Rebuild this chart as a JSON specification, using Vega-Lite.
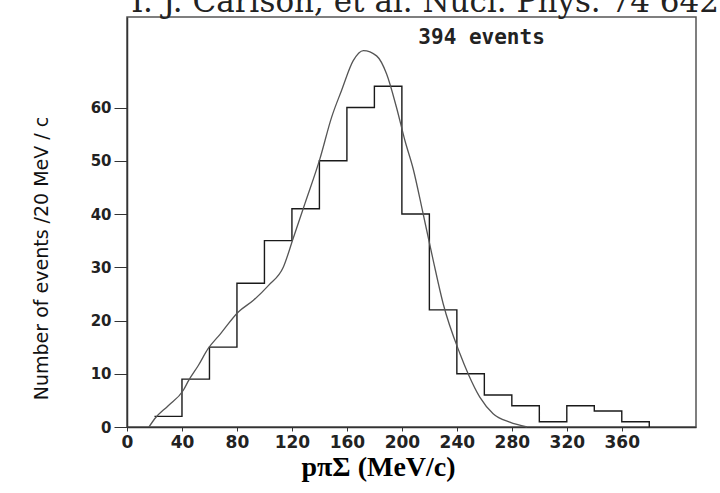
{
  "$schema": "https://vega.github.io/schema/vega-lite/v6.json",
  "width": 569,
  "height": 410,
  "autosize": {"type": "none"},
  "padding": {"left": 127, "top": 17, "right": 24, "bottom": 66},
  "background": "white",
  "title": {
    "text": "T. J. Carlson, et al. Nucl. Phys. 74 642",
    "anchor": "start",
    "frame": "group",
    "font": "DejaVu Serif",
    "fontSize": 31,
    "fontWeight": "normal",
    "color": "#222",
    "baseline": "alphabetic",
    "offset": 0,
    "dy": 26
  },
  "config": {
    "view": {"stroke": "#555", "strokeWidth": 1.5},
    "axis": {"grid": false}
  },
  "datasets": {
    "hist": [
      {"p": 20, "n": 2}, {"p": 40, "n": 9}, {"p": 60, "n": 15}, {"p": 80, "n": 27},
      {"p": 100, "n": 35}, {"p": 120, "n": 41}, {"p": 140, "n": 50}, {"p": 160, "n": 60},
      {"p": 180, "n": 64}, {"p": 200, "n": 40}, {"p": 220, "n": 22}, {"p": 240, "n": 10},
      {"p": 260, "n": 6}, {"p": 280, "n": 4}, {"p": 300, "n": 1}, {"p": 320, "n": 4},
      {"p": 340, "n": 3}, {"p": 360, "n": 1}, {"p": 380, "n": 0}
    ],
    "curve": [
      {"p": 16, "n": 0}, {"p": 20, "n": 1.5}, {"p": 30, "n": 4}, {"p": 41, "n": 6.9},
      {"p": 45, "n": 8.8}, {"p": 52, "n": 11.6}, {"p": 59, "n": 14.7}, {"p": 68, "n": 17.5},
      {"p": 81, "n": 21.6}, {"p": 92, "n": 23.8}, {"p": 103, "n": 26.6}, {"p": 113.7, "n": 30},
      {"p": 121, "n": 35.5}, {"p": 129.5, "n": 42}, {"p": 140.4, "n": 50.4}, {"p": 148.9, "n": 58.2},
      {"p": 156.1, "n": 63.2}, {"p": 164.6, "n": 68.8}, {"p": 172, "n": 70.7}, {"p": 181.6, "n": 69.7},
      {"p": 188.9, "n": 66.3}, {"p": 196.1, "n": 60}, {"p": 202.2, "n": 53.8}, {"p": 208.2, "n": 48.5},
      {"p": 215.5, "n": 40}, {"p": 222.8, "n": 31.3}, {"p": 230, "n": 23.2}, {"p": 242.2, "n": 13.8},
      {"p": 248.2, "n": 10}, {"p": 256.7, "n": 5.6}, {"p": 266.4, "n": 2.5}, {"p": 278.5, "n": 0.9},
      {"p": 291, "n": 0}
    ],
    "note": [{"label": "394 events"}]
  },
  "layer": [
    {
      "data": {"name": "hist"},
      "mark": {"type": "line", "interpolate": "step-after", "color": "#1a1a1a", "strokeWidth": 1.4},
      "encoding": {
        "x": {
          "field": "p", "type": "quantitative",
          "scale": {"domain": [0, 414], "nice": false},
          "axis": {
            "values": [0, 40, 80, 120, 160, 200, 240, 280, 320, 360],
            "title": "pπΣ (MeV/c)",
            "labelFont": "DejaVu Sans", "labelFontWeight": "bold", "labelFontSize": 17,
            "labelColor": "#222", "labelPadding": 3, "labelFlush": false, "labelOverlap": false,
            "tickSize": 4, "tickColor": "#333", "domainColor": "#333", "domainWidth": 1.5,
            "titleFont": "Liberation Serif", "titleFontSize": 28, "titleFontWeight": "bold",
            "titleColor": "#000", "titleX": 251, "titleY": 48, "titleBaseline": "alphabetic",
            "titleAlign": "center", "titleAnchor": null
          }
        },
        "y": {
          "field": "n", "type": "quantitative",
          "scale": {"domain": [0, 77], "nice": false},
          "axis": {
            "values": [0, 10, 20, 30, 40, 50, 60],
            "title": "Number of events /20 MeV / c",
            "labelFont": "DejaVu Sans", "labelFontWeight": "bold", "labelFontSize": 15,
            "labelColor": "#222", "labelPadding": 3,
            "tickSize": 13, "tickColor": "#333", "domainColor": "#333", "domainWidth": 1.5,
            "titleFont": "DejaVu Sans", "titleFontSize": 19, "titleFontWeight": "normal",
            "titleColor": "#111", "titleAngle": -90, "titleX": -80, "titleY": 241,
            "titleBaseline": "alphabetic", "titleAlign": "center"
          }
        }
      }
    },
    {
      "data": {"name": "curve"},
      "mark": {"type": "line", "interpolate": "monotone", "color": "#555", "strokeWidth": 1.3},
      "encoding": {
        "x": {"field": "p", "type": "quantitative", "scale": {"domain": [0, 414], "nice": false}},
        "y": {"field": "n", "type": "quantitative", "scale": {"domain": [0, 77], "nice": false}}
      }
    },
    {
      "data": {"name": "note"},
      "mark": {"type": "text", "align": "left", "baseline": "middle", "font": "DejaVu Sans Mono", "fontWeight": "bold", "fontSize": 21, "color": "#222"},
      "encoding": {
        "x": {"datum": 212, "type": "quantitative"},
        "y": {"datum": 73, "type": "quantitative"},
        "text": {"field": "label"}
      }
    }
  ]
}
